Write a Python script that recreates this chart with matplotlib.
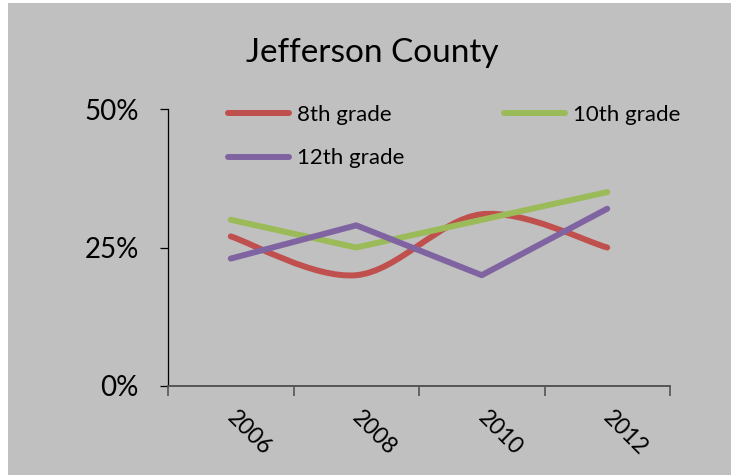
import matplotlib.pyplot as plt
import numpy as np
from matplotlib.path import Path
from matplotlib.patches import PathPatch, Rectangle
from matplotlib.lines import Line2D
import matplotlib.transforms as mtransforms

years = ["2006", "2008", "2010", "2012"]
grade8 = [0.27, 0.20, 0.31, 0.25]
grade10 = [0.30, 0.25, 0.30, 0.35]
grade12 = [0.23, 0.29, 0.20, 0.32]
yticks = [0.0, 0.25, 0.5]
yticklabels = ["0%", "25%", "50%"]

RED = "#C0504D"
GREEN = "#9BBB59"
PURPLE = "#8064A2"
BG = "#C0C0C0"

plt.rcParams['font.family'] = ['Lato', 'DejaVu Sans']

fig = plt.figure(figsize=(7.31, 4.75), dpi=100)
fig.patch.set_facecolor("white")
fig.patches.append(Rectangle((8 / 731, 0), 1, 1 - 3 / 475, transform=fig.transFigure,
                             facecolor=BG, edgecolor="none", zorder=-10))

ax = fig.add_axes([168 / 731, 1 - 386 / 475, (670 - 168) / 731, (386 - 109) / 475])
ax.set_facecolor("none")
x = np.arange(len(years)) + 0.5


def smooth_path(xs, ys):
    # catmull-rom style bezier, like excel's "smoothed line"
    pts = np.column_stack([xs, ys])
    verts = [pts[0]]
    codes = [Path.MOVETO]
    n = len(pts)
    for i in range(n - 1):
        p0 = pts[max(i - 1, 0)]
        p1 = pts[i]
        p2 = pts[i + 1]
        p3 = pts[min(i + 2, n - 1)]
        c1 = p1 + (p2 - p0) / 6.0
        c2 = p2 - (p3 - p1) / 6.0
        verts += [c1, c2, p2]
        codes += [Path.CURVE4] * 3
    return Path(verts, codes)


lw = 4.3
ax.add_patch(PathPatch(smooth_path(x, grade8), facecolor="none", edgecolor=RED,
                       lw=lw, capstyle="round", joinstyle="round", zorder=3))
ax.plot(x, grade10, color=GREEN, lw=lw, solid_capstyle="round", solid_joinstyle="round", zorder=3)
ax.plot(x, grade12, color=PURPLE, lw=lw, solid_capstyle="round", solid_joinstyle="round", zorder=4)

ax.set_xlim(0, len(years))
ax.set_ylim(0, 0.5)

for s in ["top", "right"]:
    ax.spines[s].set_visible(False)
ax.spines["left"].set_color("black")
ax.spines["left"].set_linewidth(0.9)
ax.spines["bottom"].set_color("#555555")
ax.spines["bottom"].set_linewidth(1.4)

ax.set_yticks(yticks)
ax.set_yticklabels(yticklabels, fontsize=20)
ax.tick_params(axis="y", direction="out", length=6, width=0.9, color="black", pad=15)

ax.set_xticks(np.arange(len(years) + 1))
ax.set_xticklabels([])
ax.tick_params(axis="x", direction="out", length=7, width=1.2, color="#555555")
ax.set_xticks(x, minor=True)
ax.set_xticklabels(years, minor=True, fontsize=16.5, rotation=-45, ha="left", va="top")
ax.tick_params(axis="x", which="minor", length=0, pad=15)
off = mtransforms.ScaledTranslation(-8 / 100, 0, fig.dpi_scale_trans)
for lab in ax.xaxis.get_minorticklabels():
    lab.set_transform(lab.get_transform() + off)

fig.text(372 / 731, 1 - 53 / 475, "Jefferson County", fontsize=24, ha="center", va="center")

handles = [Line2D([], [], color=RED, lw=lw, solid_capstyle="round"),
           Line2D([], [], color=PURPLE, lw=lw, solid_capstyle="round"),
           Line2D([], [], color=GREEN, lw=lw, solid_capstyle="round")]
labels = ["8th grade", "12th grade", "10th grade"]
leg = ax.legend(handles, labels, ncol=2, loc="upper left",
                bbox_to_anchor=(228 / 731, 1 - 105 / 475), bbox_transform=fig.transFigure,
                frameon=False, fontsize=16, handlelength=2.75, handletextpad=0.35,
                columnspacing=4.5, labelspacing=1.05, borderpad=0, borderaxespad=0)

fig.savefig("out.png", dpi=100)
